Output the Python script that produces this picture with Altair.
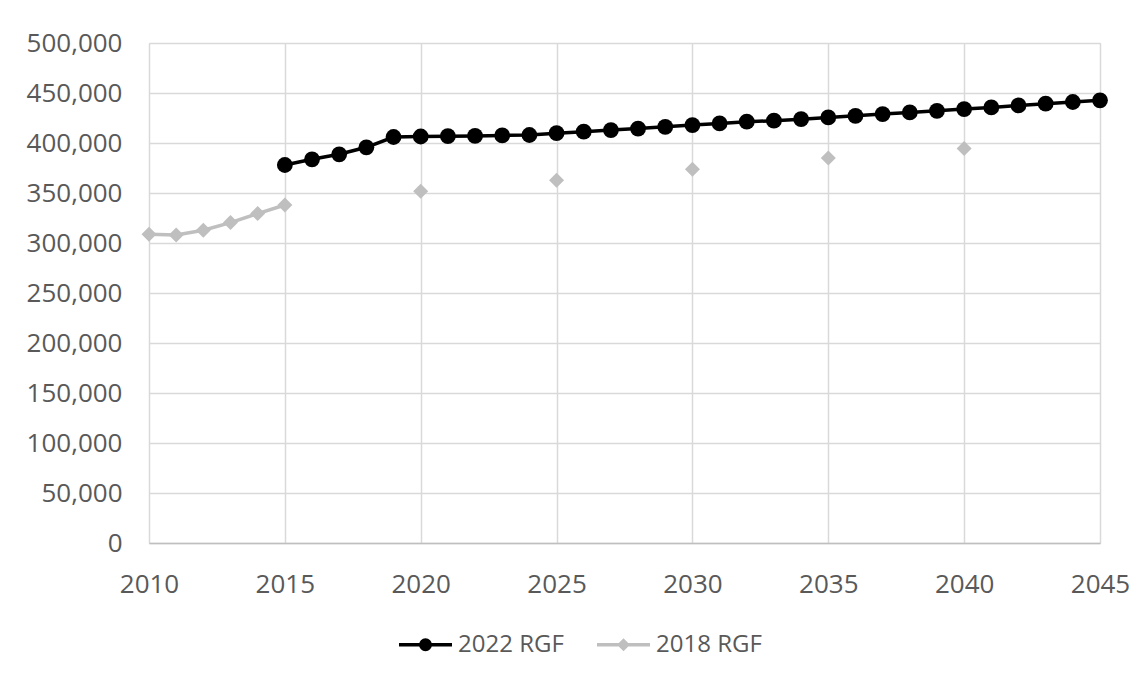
import altair as alt
import pandas as pd

# 2022 RGF series (yearly)
years_2022 = list(range(2015, 2046))
values_2022 = [378000, 383700, 388700, 395700, 406000, 406500, 406800, 407100, 407600, 408000,
               409800, 411300, 412900, 414400, 416200, 417900, 419600, 421300, 422300, 423800,
               425600, 427200, 428900, 430600, 432200, 433900, 435600, 437600, 439300, 441000,
               442700]

# 2018 RGF series
years_2018 = [2010, 2011, 2012, 2013, 2014, 2015, 2020, 2025, 2030, 2035, 2040]
values_2018 = [308700, 308000, 312700, 320400, 329400, 338000, 351700, 362700, 373700, 385000, 394600]
connected_2018 = [True, True, True, True, True, True, False, False, False, False, False]

series_names = ["2022 RGF", "2018 RGF"]
series_colors = ["#000000", "#bfbfbf"]

y_ticks = list(range(0, 500001, 50000))
x_ticks = list(range(2010, 2046, 5))

df22 = pd.DataFrame({"year": years_2022, "value": values_2022, "series": "2022 RGF", "connected": True})
df18 = pd.DataFrame({"year": years_2018, "value": values_2018, "series": "2018 RGF",
                     "connected": connected_2018})
df = pd.concat([df22, df18], ignore_index=True)

FONT = "Open Sans"
LABEL_COLOR = "#595959"
GRID = "#d9d9d9"
FS = 26

x_enc = alt.X("year:Q", scale=alt.Scale(domain=[2010, 2045], nice=False, zero=False),
              axis=alt.Axis(values=x_ticks, format="d", title=None, grid=True, gridColor=GRID,
                            gridWidth=1.5, domainColor="#bfbfbf", domainWidth=1.5, ticks=False,
                            labelFont=FONT, labelFontSize=FS, labelColor=LABEL_COLOR,
                            labelPadding=28, labelFlush=False))
y_enc = alt.Y("value:Q", scale=alt.Scale(domain=[0, 500000], nice=False),
              axis=alt.Axis(values=y_ticks, format=",.0f", title=None, grid=True, gridColor=GRID,
                            gridWidth=1.5, domain=False, ticks=False,
                            labelFont=FONT, labelFontSize=FS, labelColor=LABEL_COLOR,
                            labelPadding=27))

base = alt.Chart(df)

line22 = base.mark_line(strokeWidth=3.5, color=series_colors[0]).encode(
    x=x_enc, y=y_enc
).transform_filter("datum.series === '2022 RGF'")

line18 = base.mark_line(strokeWidth=3.5, color=series_colors[1]).encode(
    x="year:Q", y="value:Q"
).transform_filter("datum.series === '2018 RGF' && datum.connected")

pts22 = base.mark_point(filled=True, shape="circle", size=250, opacity=1, color=series_colors[0]).encode(
    x="year:Q", y="value:Q"
).transform_filter("datum.series === '2022 RGF'")

pts18 = base.mark_point(filled=True, shape="diamond", size=225, opacity=1, color=series_colors[1]).encode(
    x="year:Q", y="value:Q"
).transform_filter("datum.series === '2018 RGF'")

legend_shapes = [
    "M-1,0H1M0.18,0A0.18,0.18,0,1,1,-0.18,0A0.18,0.18,0,1,1,0.18,0Z",
    "M-1,0H1M0,-0.15L0.15,0L0,0.15L-0.15,0Z",
]

legend_def = alt.Legend(title=None, orient="none", legendX=248, legendY=573, direction="horizontal",
                        symbolSize=2809, symbolStrokeWidth=3.5, symbolOpacity=1,
                        labelFont=FONT, labelFontSize=24, labelColor=LABEL_COLOR,
                        labelOffset=4, columnPadding=26)

legend_layer = base.mark_point(filled=True, size=10).encode(
    x="year:Q", y="value:Q",
    fill=alt.Fill("series:N", scale=alt.Scale(domain=series_names, range=series_colors), legend=legend_def),
    stroke=alt.Stroke("series:N", scale=alt.Scale(domain=series_names, range=series_colors), legend=legend_def),
    shape=alt.Shape("series:N", scale=alt.Scale(domain=series_names, range=legend_shapes), legend=legend_def),
).transform_filter("datum.year < 0")

chart = alt.layer(line22, line18, pts22, pts18, legend_layer).properties(
    width=951, height=500,
    autosize=alt.AutoSizeParams(type="none"),
    padding={"left": 141, "top": 35, "right": 30, "bottom": 126},
).configure_view(stroke=None).configure(background="white")

chart.save("out.html", embed_options={"renderer": "svg", "actions": False})
